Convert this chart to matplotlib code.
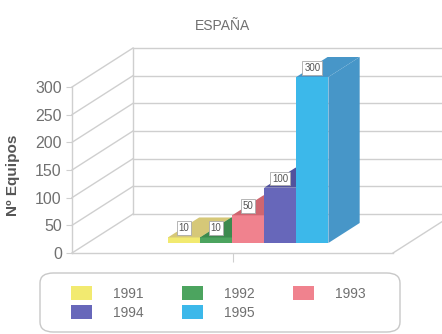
import matplotlib
matplotlib.use("Agg")
import matplotlib.pyplot as plt
from matplotlib.patches import Polygon, Patch, FancyBboxPatch

plt.rcParams['font.family'] = ['Liberation Sans', 'DejaVu Sans']

# data
years = ['1991', '1992', '1993', '1994', '1995']
equipos = [10, 10, 50, 100, 300]
y_ticks = [0, 50, 100, 150, 200, 250, 300]
front_colors = ['#f2ea70', '#4ca45f', '#f0828e', '#6767ba', '#3cb8ea']
dark_colors = ['#d6c878', '#3c8a4e', '#cf6670', '#52529c', '#4796c8']

W, H = 442, 334
fig = plt.figure(figsize=(W / 100, H / 100), dpi=100)
ax = fig.add_axes([0, 0, 1, 1])
ax.set_facecolor('none')

# pixel -> data mapping of the "front" plane
px_x = 321.0          # pixels per x unit
px_y = 166.0 / 300.0  # pixels per value unit
ax.set_xlim(-72 / px_x, (W - 72) / px_x)
ax.set_ylim((253 - H) / px_y, 253 / px_y)

# depth of the box (back wall offset)
dep_x = 61 / px_x
dep_y = 39 / px_y
top = y_ticks[-1]
grid_c = '#cfcfcf'

# back wall
ax.add_patch(Polygon([(dep_x, dep_y), (1 + dep_x, dep_y), (1 + dep_x, top + dep_y),
                      (dep_x, top + dep_y)], closed=True, fc='white', ec='none', zorder=1))
for v in y_ticks:
    ax.plot([dep_x, 1 + dep_x], [v + dep_y, v + dep_y], color=grid_c, lw=1, zorder=2)
    # side wall lines
    ax.plot([0, dep_x], [v, v + dep_y], color=grid_c, lw=1, zorder=2)
ax.plot([dep_x, dep_x], [dep_y, top + dep_y], color=grid_c, lw=1, zorder=2)
# floor right edge
ax.plot([1, 1 + dep_x], [0, dep_y], color=grid_c, lw=1, zorder=2)

# front axes from the spines
for s in ['top', 'right']:
    ax.spines[s].set_visible(False)
ax.spines['left'].set_position(('data', 0))
ax.spines['left'].set_bounds(0, top)
ax.spines['bottom'].set_position(('data', 0))
ax.spines['bottom'].set_bounds(0, 1)
for s in ['left', 'bottom']:
    ax.spines[s].set_color(grid_c)
    ax.spines[s].set_linewidth(1)
ax.set_yticks(y_ticks)
ax.set_yticklabels([str(v) for v in y_ticks])
ax.set_xticks([0.5])
ax.set_xticklabels([''])
ax.tick_params(axis='y', direction='out', length=4.3, width=0.8, color=grid_c,
               labelsize=11.5, labelcolor='#707070', pad=3)
ax.tick_params(axis='x', direction='out', length=6.5, width=0.8, color=grid_c)
ax.set_ylabel('Nº Equipos', fontsize=11, fontweight='bold', color='#555555')
ax.yaxis.set_label_coords(20 / W, 1 - 175 / H)

# 3D bars
bar_w = 0.1
f0, f1 = 10 / 39, 30 / 39
bx0, by0 = f0 * dep_x, f0 * dep_y
bdx, bdy = (f1 - f0) * dep_x, (f1 - f0) * dep_y
start = 0.5 - bar_w * len(years) / 2
for i, (yr, v) in enumerate(zip(years, equipos)):
    x0 = start + i * bar_w + bx0
    x1 = x0 + bar_w
    y0 = by0
    y1 = by0 + v
    z = 5 + i
    ax.add_patch(Polygon([(x0, y0), (x1, y0), (x1, y1), (x0, y1)], closed=True,
                         fc=front_colors[i], ec='none', zorder=z))
    ax.add_patch(Polygon([(x0, y1), (x1, y1), (x1 + bdx, y1 + bdy), (x0 + bdx, y1 + bdy)],
                         closed=True, fc=dark_colors[i], ec='none', zorder=z))
    ax.add_patch(Polygon([(x1, y0), (x1 + bdx, y0 + bdy), (x1 + bdx, y1 + bdy), (x1, y1)],
                         closed=True, fc=dark_colors[i], ec='none', zorder=z))
    ax.annotate(str(v), xy=((x0 + x1) / 2, y1), xytext=(0, 3), textcoords='offset points',
                ha='center', va='bottom', fontsize=7, color='#555555', zorder=20,
                bbox=dict(boxstyle='square,pad=0.2', fc='white', ec='#aaaaaa', lw=0.6))

fig.text(222 / W, 1 - 26 / H, 'ESPAÑA', ha='center', va='center', fontsize=10, color='#707070')

# legend box
fig.patches.append(FancyBboxPatch((40 / W, 1 - 332 / H), 360 / W, 59 / H,
                                  boxstyle='round,pad=0,rounding_size=0.03',
                                  transform=fig.transFigure, fc='white', ec='#c8c8c8', lw=1))
# legend fills by column, so reorder to read row by row
order = [0, 3, 1, 4, 2]
handles = [Patch(fc=front_colors[k], ec='none') for k in order]
labels = [years[k] for k in order]
fig.legend(handles, labels, ncol=3, frameon=False, loc='upper left',
           bbox_to_anchor=(71 / W, 1 - 286 / H), borderpad=0, borderaxespad=0,
           handlelength=1.5, handleheight=1.15, handletextpad=1.5, columnspacing=2.8,
           labelspacing=0.35, fontsize=10, labelcolor='#707070')

fig.savefig('out.png', dpi=100, facecolor='white')
